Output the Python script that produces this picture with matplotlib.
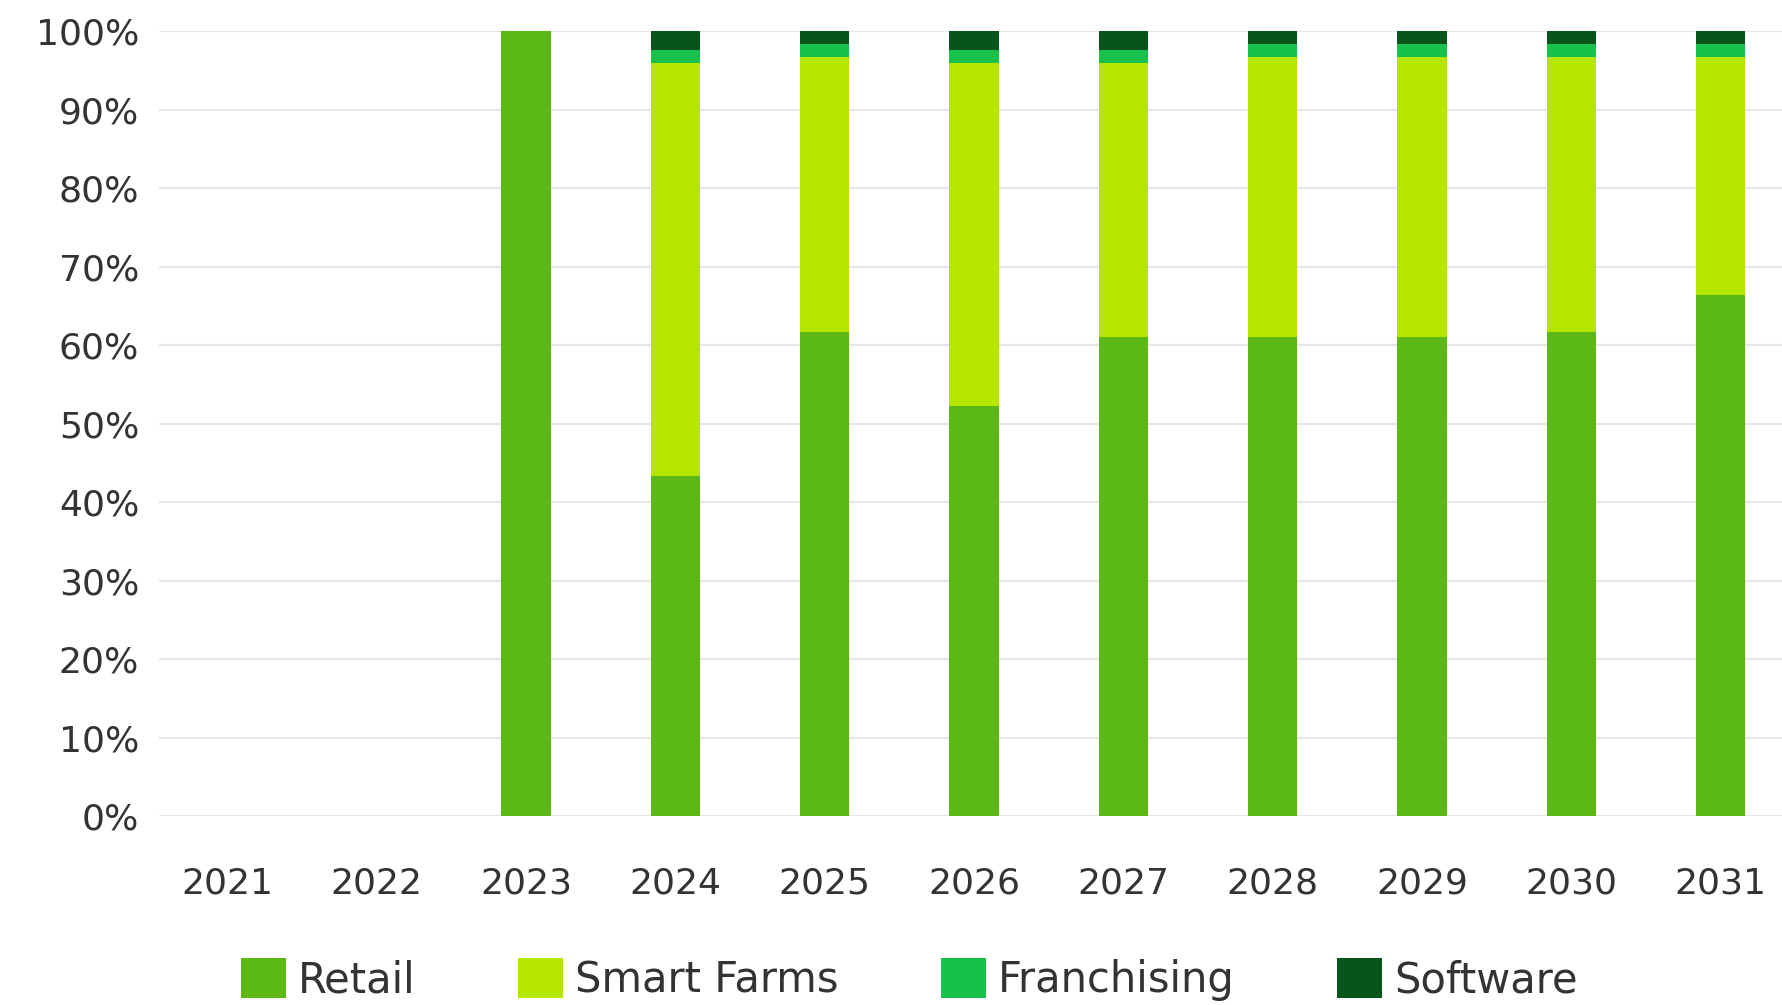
import matplotlib
matplotlib.use("Agg")
import matplotlib.pyplot as plt
import numpy as np

years = ["2021", "2022", "2023", "2024", "2025", "2026", "2027", "2028", "2029", "2030", "2031"]
retail = [0, 0, 100, 43.3, 61.7, 52.2, 61.0, 61.0, 61.0, 61.7, 66.4]
smart_farms = [0, 0, 0, 52.6, 35.0, 43.7, 34.9, 35.7, 35.7, 35.0, 30.3]
franchising = [0, 0, 0, 1.7, 1.6, 1.7, 1.7, 1.6, 1.6, 1.6, 1.6]
software = [0, 0, 0, 2.4, 1.7, 2.4, 2.4, 1.7, 1.7, 1.7, 1.7]

series = [("Retail", retail, "#5cb814"),
          ("Smart Farms", smart_farms, "#b4e600"),
          ("Franchising", franchising, "#17c14a"),
          ("Software", software, "#06561c")]

plt.rcParams['font.family'] = ['DejaVu Sans']
fig = plt.figure(figsize=(17.82, 10.05), dpi=100)
ax = fig.add_axes([0.089, 0.188, 0.911, 0.781])

x = np.arange(len(years))
bottom = np.zeros(len(years))
for name, vals, col in series:
    v = np.array(vals, dtype=float)
    ax.bar(x, v, width=0.33, bottom=bottom, color=col, label=name, zorder=3)
    bottom += v

ax.set_xlim(-0.46, 10.41)
ax.set_ylim(0, 100)
ax.set_yticks(np.arange(0, 101, 10))
ax.set_yticklabels([f"{t}%" for t in range(0, 101, 10)])
ax.set_xticks(x)
ax.set_xticklabels(years)
ax.tick_params(axis='both', length=0, labelsize=26, labelcolor="#333333")
ax.tick_params(axis='x', pad=36)
ax.tick_params(axis='y', pad=14)
ax.grid(axis='y', color="#e6e6e6", linewidth=1.5, zorder=0)
for s in ax.spines.values():
    s.set_visible(False)

leg = fig.legend(loc='center left', bbox_to_anchor=(0.135, 0.025), ncol=4, frameon=False,
                 prop={'family': 'DejaVu Sans', 'size': 30},
                 handlelength=1.08, handleheight=1.08, handletextpad=0.3, columnspacing=2.45,
                 borderpad=0, borderaxespad=0)
for t in leg.get_texts():
    t.set_color("#333333")

fig.savefig("out.png", dpi=100)
